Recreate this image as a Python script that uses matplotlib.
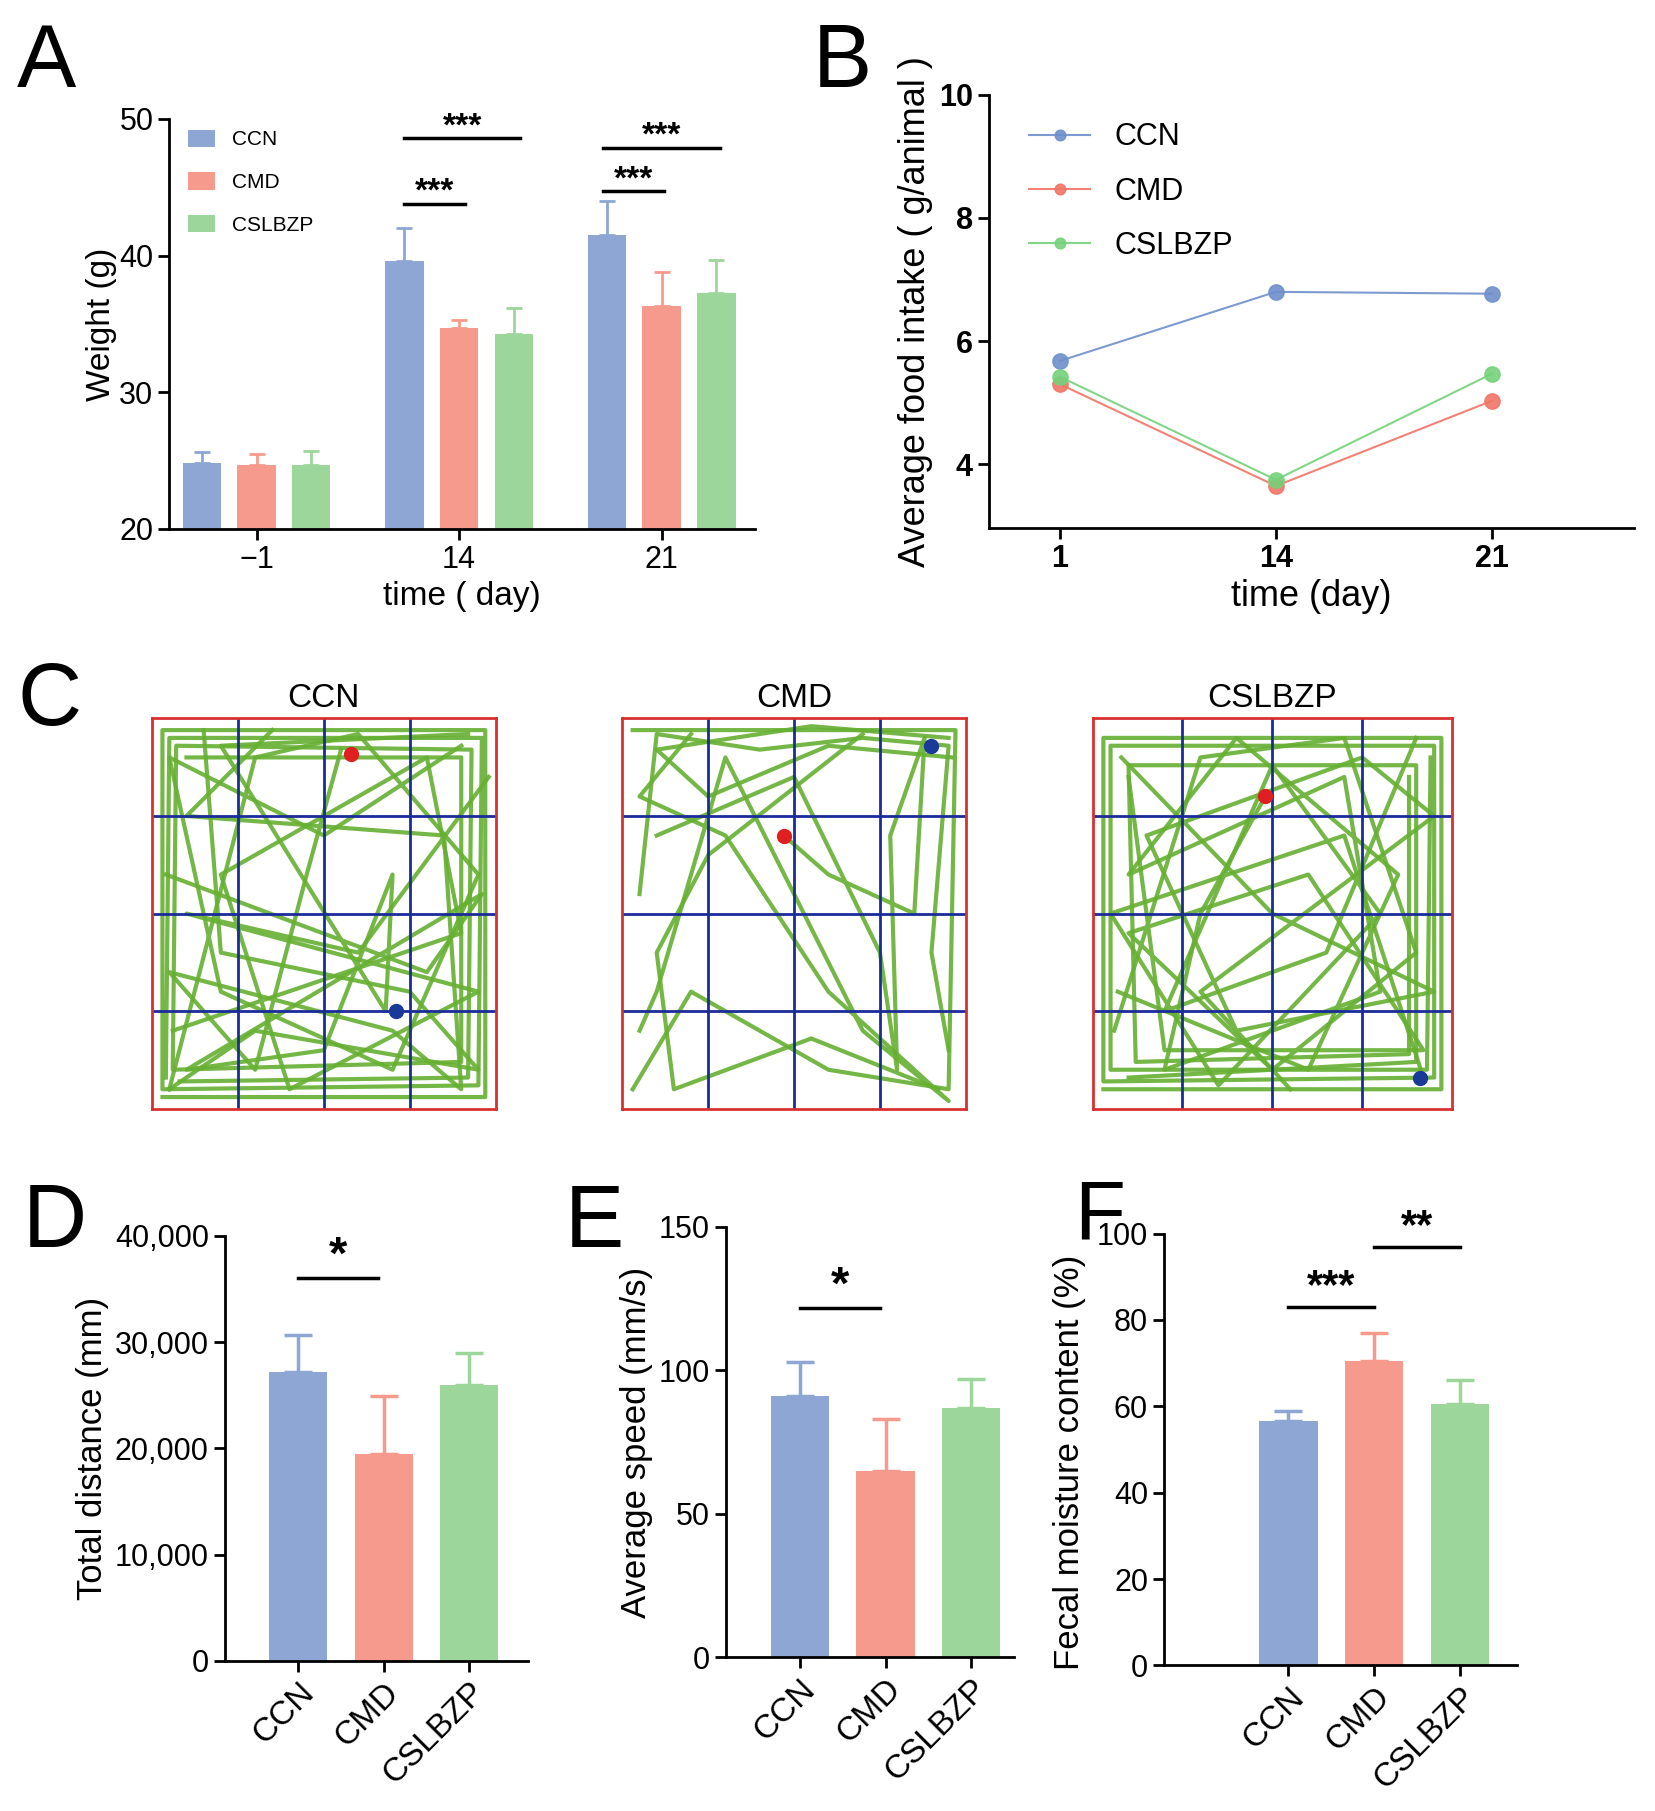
import numpy as np
import matplotlib.pyplot as plt

plt.rcParams['font.family'] = ['Liberation Sans', 'DejaVu Sans']

groups = ['CCN', 'CMD', 'CSLBZP']
bar_colors = ['#8DA6D3', '#F59A8C', '#9DD69A']
line_colors = ['#6F8FCB', '#F07566', '#74D27A']

# A: body weight
days_a = ['\u22121', '14', '21']
weight_mean = {'CCN': [24.8, 39.6, 41.5], 'CMD': [24.7, 34.7, 36.3], 'CSLBZP': [24.7, 34.3, 37.3]}
weight_err = {'CCN': [0.8, 2.4, 2.5], 'CMD': [0.8, 0.6, 2.5], 'CSLBZP': [1.0, 1.9, 2.4]}

# B: food intake
days_b = ['1', '14', '21']
food = {'CCN': [5.68, 6.80, 6.77], 'CMD': [5.30, 3.65, 5.03], 'CSLBZP': [5.42, 3.75, 5.47]}

# D, E, F
distance = [27200, 19500, 26000]
distance_err = [3500, 5400, 3000]
speed = [91, 65, 87]
speed_err = [12, 18, 10]
moisture = [56.5, 70.5, 60.5]
moisture_err = [2.5, 6.5, 5.5]

# C: open-field tracks (arena coordinates 0..1)
tracks = {
    'CCN': [
        [(0.03, 0.03), (0.97, 0.03), (0.97, 0.97), (0.03, 0.97), (0.03, 0.05), (0.95, 0.06), (0.96, 0.95), (0.05, 0.95), (0.04, 0.08)],
        [(0.05, 0.05), (0.3, 0.9), (0.6, 0.96), (0.95, 0.6), (0.7, 0.1), (0.2, 0.3), (0.05, 0.9), (0.5, 0.7), (0.9, 0.93)],
        [(0.06, 0.2), (0.9, 0.45), (0.8, 0.9), (0.2, 0.6), (0.4, 0.05), (0.95, 0.3), (0.1, 0.5), (0.6, 0.4), (0.98, 0.85)],
        [(0.55, 0.92), (0.45, 0.6), (0.3, 0.1), (0.05, 0.35), (0.7, 0.2), (0.9, 0.05), (0.85, 0.7), (0.1, 0.75), (0.35, 0.97)],
        [(0.04, 0.6), (0.8, 0.35), (0.96, 0.55), (0.1, 0.1), (0.5, 0.15), (0.7, 0.6), (0.68, 0.25), (0.2, 0.93), (0.92, 0.96)],
        [(0.08, 0.07), (0.92, 0.08), (0.93, 0.92), (0.07, 0.93), (0.06, 0.1), (0.9, 0.12), (0.9, 0.9), (0.1, 0.9)],
        [(0.15, 0.97), (0.2, 0.4), (0.75, 0.3), (0.95, 0.1), (0.3, 0.2), (0.05, 0.05)],
    ],
    'CMD': [
        [(0.03, 0.97), (0.97, 0.97), (0.95, 0.05), (0.6, 0.1), (0.2, 0.3), (0.03, 0.05)],
        [(0.05, 0.55), (0.1, 0.96), (0.4, 0.92), (0.7, 0.95), (0.95, 0.93), (0.9, 0.4), (0.95, 0.15)],
        [(0.47, 0.7), (0.6, 0.6), (0.85, 0.5), (0.88, 0.95), (0.78, 0.7), (0.8, 0.1), (0.75, 0.4), (0.5, 0.85), (0.1, 0.7)],
        [(0.2, 0.96), (0.05, 0.8), (0.3, 0.7), (0.6, 0.3), (0.95, 0.02), (0.7, 0.2), (0.3, 0.9), (0.1, 0.3), (0.05, 0.2)],
        [(0.7, 0.96), (0.25, 0.65), (0.1, 0.4), (0.15, 0.05), (0.55, 0.18), (0.92, 0.05)],
        [(0.95, 0.95), (0.55, 0.98), (0.1, 0.92), (0.25, 0.8), (0.6, 0.93), (0.96, 0.9)],
    ],
    'CSLBZP': [
        [(0.03, 0.05), (0.97, 0.05), (0.97, 0.95), (0.03, 0.95), (0.03, 0.07), (0.95, 0.08), (0.95, 0.93), (0.05, 0.93), (0.05, 0.1), (0.93, 0.1), (0.94, 0.9)],
        [(0.06, 0.2), (0.3, 0.9), (0.7, 0.95), (0.9, 0.4), (0.5, 0.1), (0.1, 0.45), (0.6, 0.6), (0.92, 0.15), (0.2, 0.15), (0.1, 0.85)],
        [(0.48, 0.8), (0.3, 0.5), (0.2, 0.1), (0.8, 0.3), (0.7, 0.85), (0.1, 0.6), (0.4, 0.95), (0.85, 0.6), (0.6, 0.1), (0.07, 0.3)],
        [(0.08, 0.9), (0.5, 0.5), (0.95, 0.3), (0.4, 0.2), (0.15, 0.7), (0.75, 0.9), (0.95, 0.75), (0.3, 0.3), (0.55, 0.05)],
        [(0.9, 0.95), (0.65, 0.4), (0.2, 0.25), (0.5, 0.88), (0.8, 0.5), (0.35, 0.06), (0.05, 0.5), (0.7, 0.7), (0.92, 0.08)],
        [(0.1, 0.08), (0.9, 0.12), (0.9, 0.88), (0.1, 0.88), (0.12, 0.12), (0.88, 0.14), (0.88, 0.85)],
    ],
}
start_pts = {'CCN': (0.58, 0.91), 'CMD': (0.47, 0.7), 'CSLBZP': (0.48, 0.8)}
end_pts = {'CCN': (0.71, 0.25), 'CMD': (0.9, 0.93), 'CSLBZP': (0.91, 0.08)}

W, H = 1436, 1568
fig = plt.figure(figsize=(16.55, 18.11), dpi=100)


def add_ax(x0, y0, x1, y1):
    return fig.add_axes([x0 / W, 1 - y1 / H, (x1 - x0) / W, (y1 - y0) / H])


def style(ax):
    for s in ['top', 'right']:
        ax.spines[s].set_visible(False)
    for s in ['left', 'bottom']:
        ax.spines[s].set_linewidth(2)
    ax.tick_params(width=2, length=8, labelsize=22)


def sig(ax, x0, x1, y, text, fs=30, dy=0):
    ax.plot([x0, x1], [y, y], color='black', lw=2.5)
    ax.text((x0 + x1) / 2, y + dy, text, ha='center', va='bottom', fontsize=fs, fontweight='bold')


# Panel A
ax = add_ax(147, 103, 655, 458)
style(ax)
x = np.arange(3)
for i, g in enumerate(groups):
    pos = x + (i - 1) * 0.27
    ax.bar(pos, np.array(weight_mean[g]) - 20, bottom=20, width=0.19, color=bar_colors[i], label=g)
    ax.errorbar(pos, weight_mean[g], yerr=[np.zeros(3), weight_err[g]], fmt='none', ecolor=bar_colors[i], elinewidth=2, capsize=6, capthick=2)
ax.set_ylim(20, 50)
ax.set_xlim(-0.43, 2.46)
ax.set_yticks([20, 30, 40, 50])
ax.set_xticks(x)
ax.set_xticklabels(days_a)
ax.set_xlabel('time ( day)', fontsize=24)
ax.set_ylabel('Weight (g)', fontsize=24, labelpad=2)
ax.legend(loc='upper left', frameon=False, fontsize=15, handlelength=1.3, handleheight=0.9, labelspacing=1.1, bbox_to_anchor=(0.0, 1.02))
sig(ax, 0.73, 1.03, 43.8, '***', fs=24, dy=-0.3)
sig(ax, 0.73, 1.3, 48.6, '***', fs=24, dy=-0.3)
sig(ax, 1.71, 2.01, 44.7, '***', fs=24, dy=-0.3)
sig(ax, 1.71, 2.29, 47.9, '***', fs=24, dy=-0.3)
fig.text(15 / W, 1 - 75 / H, 'A', fontsize=64)

# Panel B
ax = add_ax(858, 82, 1418, 457)
style(ax)
for i, g in enumerate(groups):
    ax.plot(x, food[g], color=line_colors[i], lw=1.5, marker='o', markersize=11, label=g, alpha=0.9)
ax.set_ylim(2.97, 10)
ax.set_xlim(-0.33, 2.66)
ax.set_yticks([4, 6, 8, 10])
ax.set_xticks(x)
ax.set_xticklabels(days_b, fontweight='bold')
for t in ax.get_yticklabels():
    t.set_fontweight('bold')
ax.set_xlabel('time (day)', fontsize=26)
ax.set_ylabel('Average food intake ( g/animal )', fontsize=26)
ax.legend(loc='upper left', frameon=False, fontsize=22, markerscale=0.7, labelspacing=0.8, bbox_to_anchor=(0.02, 1.0))
fig.text(705 / W, 1 - 75 / H, 'B', fontsize=64)

# Panel C
fig.text(15 / W, 1 - 628 / H, 'C', fontsize=64)
boxes = {'CCN': (132, 430), 'CMD': (540, 838), 'CSLBZP': (948, 1260)}
for g in groups:
    x0, x1 = boxes[g]
    ax = add_ax(x0, 622, x1, 960)
    ax.set_xlim(0, 1)
    ax.set_ylim(0, 1)
    ax.set_xticks([])
    ax.set_yticks([])
    for s in ax.spines.values():
        s.set_color('#D83030')
        s.set_linewidth(2)
    for p in tracks[g]:
        xs, ys = zip(*p)
        ax.plot(xs, ys, color='#66B032', lw=3, alpha=0.9)
    for q in [0.25, 0.5, 0.75]:
        ax.axvline(q, color='#1A2B9A', lw=2)
        ax.axhline(q, color='#1A2B9A', lw=2)
    ax.plot(*start_pts[g], 'o', color='#E02020', markersize=10)
    ax.plot(*end_pts[g], 'o', color='#1A3A9A', markersize=10)
    ax.set_title(g, fontsize=24, pad=8)


# Panels D-F
def bar_panel(ax, vals, errs, lim, ticks, ylabel, xlim):
    style(ax)
    xb = np.arange(3)
    ax.bar(xb, vals, width=0.68, color=bar_colors)
    for i in range(3):
        ax.errorbar(xb[i], vals[i], yerr=[[0], [errs[i]]], fmt='none', ecolor=bar_colors[i], elinewidth=2.5, capsize=10, capthick=2.5)
    ax.set_xlim(*xlim)
    ax.set_ylim(*lim)
    ax.set_yticks(ticks)
    ax.set_xticks(xb)
    ax.set_xticklabels(groups, rotation=45, ha='right', rotation_mode='anchor', fontsize=24)
    ax.set_ylabel(ylabel, fontsize=25, labelpad=4)


ax = add_ax(195, 1070, 458, 1438)
bar_panel(ax, distance, distance_err, (0, 40000), [0, 10000, 20000, 30000, 40000], 'Total distance (mm)', (-0.86, 2.69))
ax.set_yticklabels(['0', '10,000', '20,000', '30,000', '40,000'])
sig(ax, 0, 0.93, 36000, '*', fs=34)
fig.text(20 / W, 1 - 1080 / H, 'D', fontsize=64)

ax = add_ax(630, 1062, 880, 1435)
bar_panel(ax, speed, speed_err, (0, 150), [0, 50, 100, 150], 'Average speed (mm/s)', (-0.86, 2.5))
sig(ax, 0, 0.93, 121.5, '*', fs=34)
fig.text(490 / W, 1 - 1080 / H, 'E', fontsize=64)

ax = add_ax(1010, 1068, 1316, 1442)
bar_panel(ax, moisture, moisture_err, (0, 100), [0, 20, 40, 60, 80, 100], 'Fecal moisture content (%)', (-1.45, 2.66))
ax.yaxis.set_label_coords(-0.22, 0.47)
sig(ax, 0, 1.0, 83, '***', fs=30)
sig(ax, 1.0, 2.0, 96.8, '**', fs=30)
fig.text(932 / W, 1 - 1072 / H, 'F', fontsize=60)

fig.savefig('out.png', dpi=100)
